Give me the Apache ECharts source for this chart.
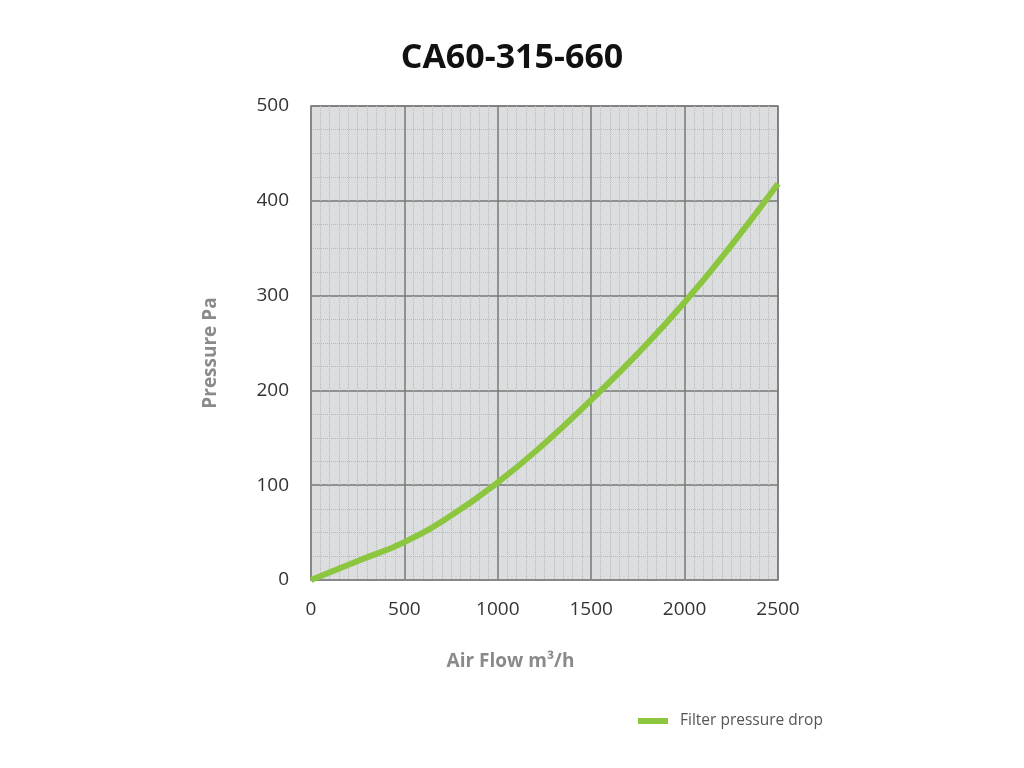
<!DOCTYPE html>
<html>
<head>
<meta charset="utf-8">
<script src="https://cdn.jsdelivr.net/npm/echarts@6/dist/echarts.min.js"></script>
<style>
  html, body { margin: 0; padding: 0; background: #fff; }
  #ChartLine { width: 1024px; height: 768px; }
</style>
</head>
<body>
<div id="ChartLine"></div>
<script>
var airFlow = [0, 250, 500, 750, 1000, 1250, 1500, 1750, 2000, 2250, 2500];
var pressure = [0, 20, 40, 68, 103, 144, 190, 239, 293, 353, 418];
var seriesName = 'Filter pressure drop';

var points = [];
for (var i = 0; i < airFlow.length; i++) {
  points.push([airFlow[i], pressure[i]]);
}

var lineChart = echarts.init(document.getElementById("ChartLine"));

var lineoption = {
  backgroundColor: '#ffffff',
  animation: false,
  title: {
    text: 'CA60-315-660',
    left: 'center',
    top: 36,
    textStyle: {
      fontFamily: 'Open Sans',
      fontSize: 34,
      fontWeight: 'bold',
      color: '#111'
    }
  },
  legend: {
    left: 633,
    top: 708,
    itemWidth: 30,
    itemHeight: 6,
    itemGap: 14,
    icon: 'rect',
    textStyle: {
      fontFamily: 'Open Sans',
      fontSize: 15.5,
      color: '#555',
      padding: [0, 0, 0, 7]
    },
    data: [seriesName]
  },
  grid: {
    left: 311,
    right: 246,
    top: 106,
    bottom: 188,
    show: true,
    backgroundColor: '#dcdddf',
    borderColor: '#8a8a8a',
    borderWidth: 1.5
  },
  xAxis: {
    type: 'value',
    min: 0,
    max: 2500,
    interval: 500,
    name: 'Air Flow m³/h',
    nameLocation: 'middle',
    nameGap: 72,
    nameTextStyle: {
      fontFamily: 'Open Sans',
      fontSize: 19,
      fontWeight: 'bold',
      color: '#8a8a8a',
      padding: [0, 68, 0, 0]
    },
    axisLine: { show: true, lineStyle: { color: '#8a8a8a', width: 1.5 } },
    axisTick: { show: false },
    axisLabel: {
      margin: 20,
      fontFamily: 'Open Sans',
      fontSize: 19,
      color: '#333',
      formatter: function (v) { return String(v); }
    },
    splitLine: { show: true, lineStyle: { color: '#777', width: 1.5 } },
    minorTick: { show: false, splitNumber: 10 },
    minorSplitLine: { show: true, lineStyle: { color: '#b8b9bc', width: 1, type: 'dotted' } }
  },
  yAxis: {
    type: 'value',
    min: 0,
    max: 500,
    interval: 100,
    name: 'Pressure Pa',
    nameLocation: 'middle',
    nameGap: 91,
    nameTextStyle: {
      fontFamily: 'Open Sans',
      fontSize: 19,
      fontWeight: 'bold',
      color: '#8a8a8a',
      padding: [0, 20, 0, 0]
    },
    axisLine: { show: true, lineStyle: { color: '#8a8a8a', width: 1.5 } },
    axisTick: { show: false },
    axisLabel: {
      margin: 22,
      fontFamily: 'Open Sans',
      fontSize: 19,
      color: '#333'
    },
    splitLine: { show: true, lineStyle: { color: '#777', width: 1.5 } },
    minorTick: { show: false, splitNumber: 4 },
    minorSplitLine: { show: true, lineStyle: { color: '#b8b9bc', width: 1, type: 'dotted' } }
  },
  series: [
    {
      name: seriesName,
      type: 'line',
      smooth: true,
      showSymbol: false,
      symbol: 'none',
      data: points,
      itemStyle: { color: '#8cc63f' },
      lineStyle: { color: '#8cc63f', width: 6 }
    }
  ]
};

//加载数据图表
lineChart.setOption(lineoption);
window.addEventListener('resize', lineChart.resize);
</script>
</body>
</html>
